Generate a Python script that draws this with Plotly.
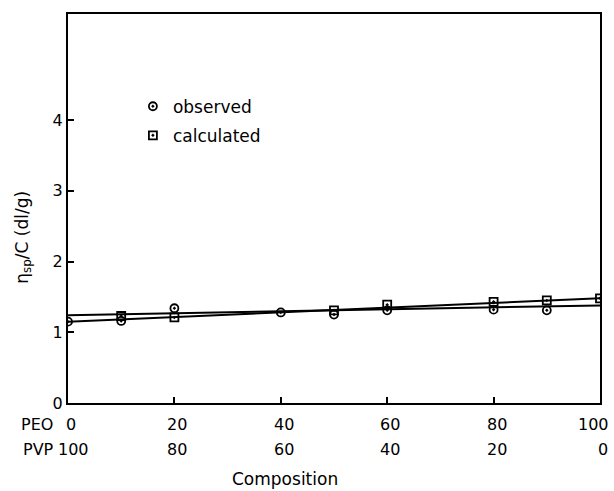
import plotly.graph_objects as go

# composition (wt% PEO)
obs_x = [0, 10, 20, 40, 50, 60, 80, 90]
obs_y = [1.15, 1.16, 1.34, 1.28, 1.25, 1.31, 1.32, 1.31]
calc_x = [10, 20, 50, 60, 80, 90, 100]
calc_y = [1.23, 1.21, 1.31, 1.39, 1.43, 1.45, 1.48]

# straight lines drawn through the data
line_calc_x = [0, 100]
line_calc_y = [1.15, 1.48]
line_obs_x = [0, 100]
line_obs_y = [1.24, 1.38]

peo_ticks = [0, 20, 40, 60, 80, 100]
peo_labels = ["0", "20", "40", "60", "80", "100"]
pvp_labels = ["100", "80", "60", "40", "20", "0"]
y_ticks = [0, 1, 2, 3, 4]

FONT = "DejaVu Sans"
fig = go.Figure()

fig.add_trace(go.Scatter(x=line_calc_x, y=line_calc_y, mode="lines",
                         line=dict(color="black", width=2), showlegend=False))
fig.add_trace(go.Scatter(x=line_obs_x, y=line_obs_y, mode="lines",
                         line=dict(color="black", width=2), showlegend=False))
fig.add_trace(go.Scatter(x=obs_x, y=obs_y, mode="markers", name="observed",
                         legendgroup="a",
                         marker=dict(symbol="circle-open-dot", size=8, color="black",
                                     line=dict(width=1.8, color="black"))))
fig.add_trace(go.Scatter(x=calc_x, y=calc_y, mode="markers", name="calculated",
                         legendgroup="b",
                         marker=dict(symbol="square-open-dot", size=8, color="black",
                                     line=dict(width=1.8, color="black"))))

ann = []
for xv, t in zip(peo_ticks, peo_labels):
    if xv == 100:
        ann.append(dict(x=xv, y=-0.054, xref="x", yref="paper", text=t, showarrow=False,
                        xanchor="right", yanchor="middle", xshift=11,
                        font=dict(size=16, color="black", family=FONT)))
    else:
        ann.append(dict(x=xv, y=-0.054, xref="x", yref="paper", text=t, showarrow=False,
                        xanchor="center", yanchor="middle", xshift=3,
                        font=dict(size=16, color="black", family=FONT)))
for xv, t in zip(peo_ticks, pvp_labels):
    ann.append(dict(x=xv, y=-0.12, xref="x", yref="paper", text=t, showarrow=False,
                    xanchor="center", yanchor="middle", xshift=5 if xv == 0 else 3,
                    font=dict(size=16, color="black", family=FONT)))
ann.append(dict(x=-0.058, y=-0.054, xref="paper", yref="paper", text="PEO", showarrow=False,
                xanchor="center", yanchor="middle", font=dict(size=16, color="black", family=FONT)))
ann.append(dict(x=-0.056, y=-0.12, xref="paper", yref="paper", text="PVP", showarrow=False,
                xanchor="center", yanchor="middle", font=dict(size=16, color="black", family=FONT)))
ann.append(dict(x=0.407, y=-0.195, xref="paper", yref="paper", text="Composition", showarrow=False,
                xanchor="center", yanchor="middle", font=dict(size=17, color="black", family=FONT)))
ann.append(dict(x=-0.084, y=0.4256, xref="paper", yref="paper",
                text="η<sub>sp</sub>/C (dl/g)", textangle=-90, showarrow=False,
                xanchor="center", yanchor="middle", font=dict(size=17, color="black", family=FONT)))

fig.update_layout(
    width=614, height=491,
    margin=dict(l=68, r=12, t=13, b=88),
    paper_bgcolor="white", plot_bgcolor="white",
    font=dict(family=FONT, color="black", size=16),
    annotations=ann,
    legend=dict(x=0.122, y=0.808, xanchor="left", yanchor="top",
                bgcolor="rgba(0,0,0,0)", tracegroupgap=4,
                font=dict(size=17, family=FONT, color="black")),
)
fig.update_xaxes(range=[0, 100], showgrid=False, zeroline=False,
                 showline=True, mirror=True, linecolor="black", linewidth=2,
                 tickmode="array", tickvals=[20, 40, 60, 80], ticks="inside",
                 ticklen=6, tickwidth=1.5, tickcolor="black", showticklabels=False)
fig.update_yaxes(range=[0, 5.5], showgrid=False, zeroline=False,
                 showline=True, mirror=True, linecolor="black", linewidth=2,
                 tickmode="array", tickvals=y_ticks, ticks="inside",
                 ticklen=6, tickwidth=1.5, tickcolor="black",
                 tickfont=dict(size=16, family=FONT, color="black"))

fig.write_html("out.html")
